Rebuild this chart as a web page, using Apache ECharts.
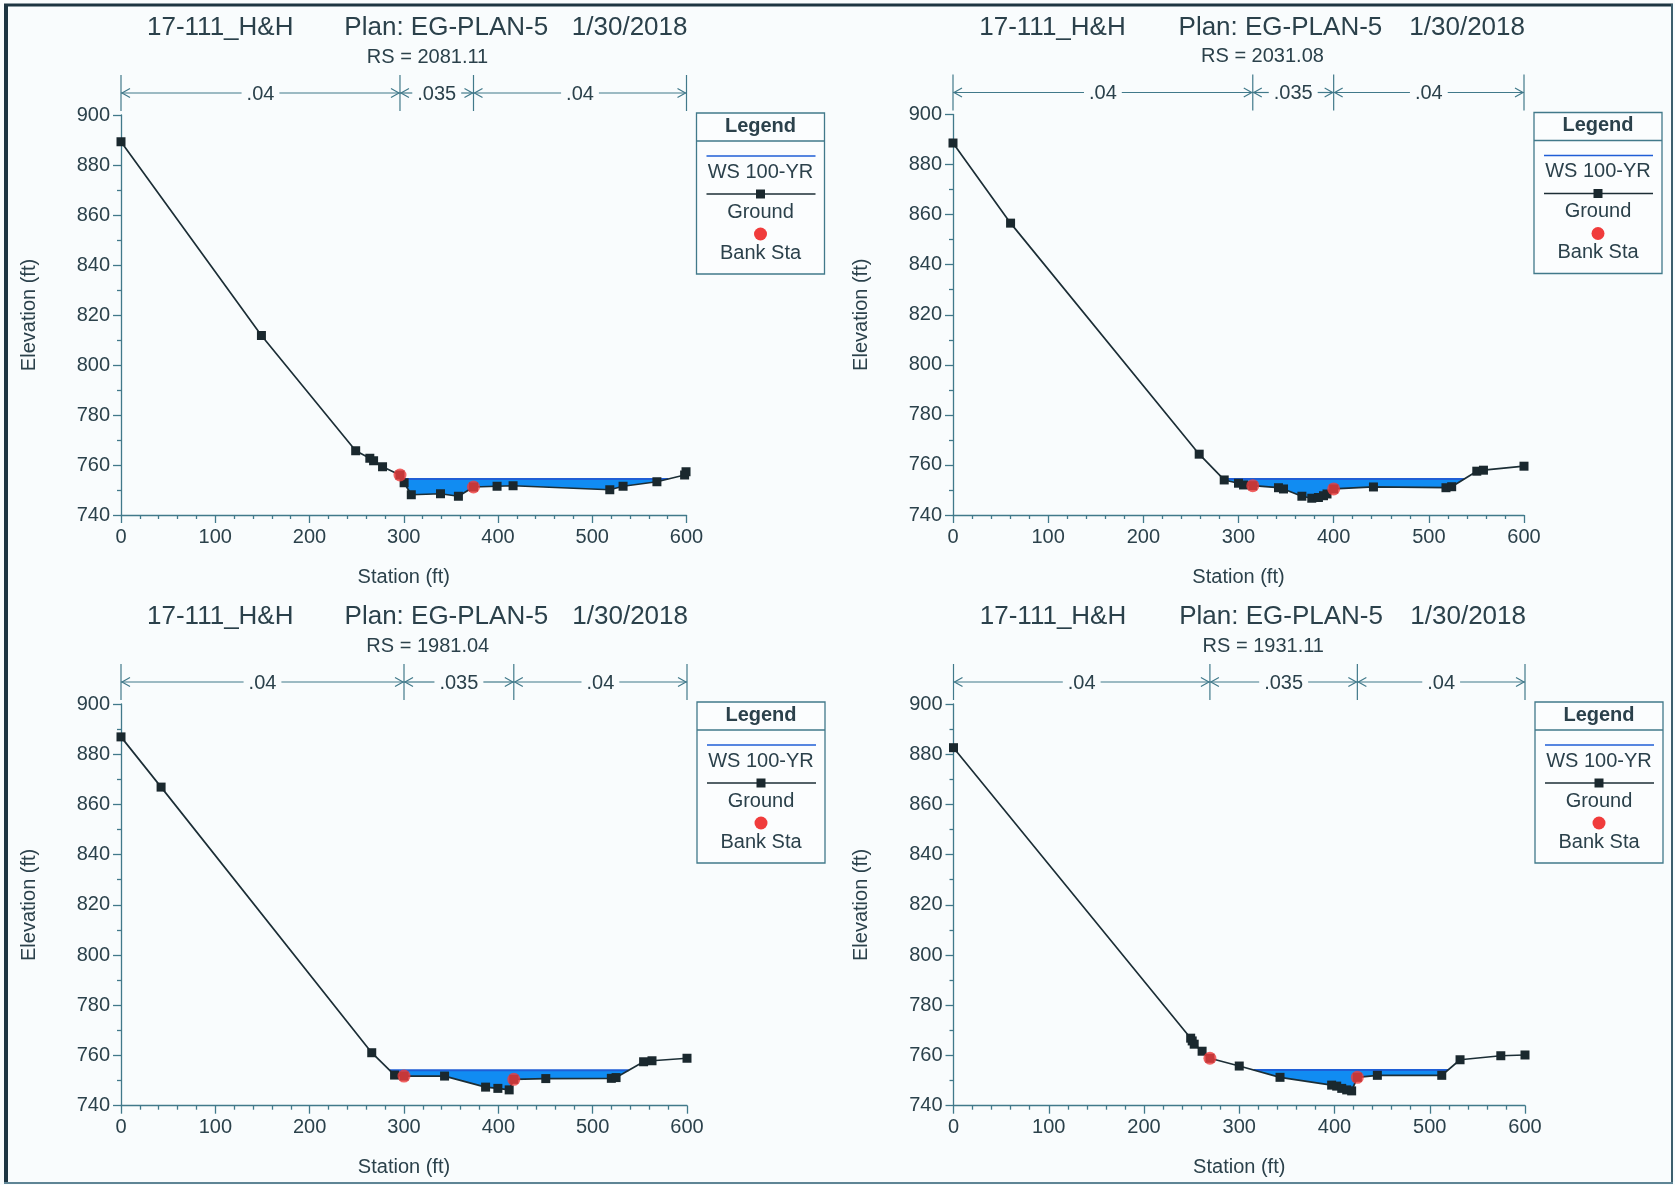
<!DOCTYPE html>
<html>
<head>
<meta charset="utf-8">
<script src="https://cdn.jsdelivr.net/npm/echarts@6/dist/echarts.min.js"></script>
<style>
  html, body { margin: 0; padding: 0; background: #f9fcfd; }
  #chart { width: 1675px; height: 1185px; }
</style>
</head>
<body>
<div id="chart"></div>
<script>
// ---- Cross-section data (station ft, elevation ft) ----
const projectName = '17-111_H&H';
const planName = 'Plan: EG-PLAN-5';
const planDate = '1/30/2018';
const riverStations = ['2081.11', '2031.08', '1981.04', '1931.11'];
const nValues = ['.04', '.035', '.04'];

const xMin = 0, xMax = 600, xStep = 100;
const yMin = 740, yMax = 900, yStep = 20;

// RS 2081.11
const sta2081 = [0, 149, 249, 264, 268, 277.5, 296, 300.4, 308, 339, 358, 374, 399, 416, 518.6, 532.7, 568.6, 598, 599.5];
const elev2081 = [889.3, 811.8, 765.7, 762.7, 761.7, 759.3, 756, 752.9, 748.1, 748.5, 747.5, 751.2, 751.5, 751.7, 750.1, 751.5, 753.3, 756, 757.3];
const bank2081 = [296, 374];
const ws2081 = 754.4;

// RS 2031.08
const sta2031 = [0, 60.5, 258.7, 285, 300, 305.3, 315, 342, 347.3, 366.6, 377, 384, 389.3, 393, 400, 441.8, 518, 524, 550.4, 557.4, 600];
const elev2031 = [888.6, 856.6, 764.3, 754, 752.7, 752, 751.7, 750.9, 750.4, 747.5, 746.7, 747, 747.7, 748.4, 750.4, 751.2, 750.9, 751.3, 757.5, 757.9, 759.5];
const bank2031 = [315, 400];
const ws2031 = 754.4;

// RS 1981.04
const sta1981 = [0, 42.5, 265.8, 290, 300, 343, 386.5, 399.5, 411.5, 416.4, 450.3, 519.8, 524.8, 554, 562.9, 600];
const elev1981 = [886.9, 866.9, 761.1, 752.2, 751.8, 751.8, 747.4, 746.9, 746.3, 750.5, 750.8, 750.9, 751.2, 757.5, 757.9, 758.9];
const bank1981 = [300, 416.4];
const ws1981 = 754.1;

// RS 1931.11
const sta1931 = [0, 249, 250.6, 252.7, 261, 269.2, 300, 342.8, 397, 402.3, 407.6, 412.8, 418, 424, 445, 512.6, 531.8, 574.6, 600];
const elev1931 = [882.6, 766.9, 765.8, 764.5, 761.7, 758.9, 755.8, 751.3, 748.2, 747.8, 746.9, 746.3, 745.9, 751.3, 752.1, 752.1, 758.3, 759.9, 760.2];
const bank1931 = [269.2, 424];
const ws1931 = 754.2;

const sections = [
  { rs: riverStations[0], sta: sta2081, elev: elev2081, banks: bank2081, ws: ws2081 },
  { rs: riverStations[1], sta: sta2031, elev: elev2031, banks: bank2031, ws: ws2031 },
  { rs: riverStations[2], sta: sta1981, elev: elev1981, banks: bank1981, ws: ws1981 },
  { rs: riverStations[3], sta: sta1931, elev: elev1931, banks: bank1931, ws: ws1931 }
];

// ---- Layout (pixel boxes of the four plot areas) ----
const plotBoxes = [
  { left: 121, top: 115, width: 565.5, height: 400 },
  { left: 953, top: 114.5, width: 571, height: 400.5 },
  { left: 121, top: 704, width: 566, height: 401.7 },
  { left: 953.5, top: 704, width: 571.5, height: 401.7 }
];

const FONT = '"Liberation Sans", Arial, Helvetica, sans-serif';
const textColor = '#2b414b';
const axisColor = '#41798a';
const groundColor = '#1c2e36';
const waterFill = '#118cf2';
const waterLine = '#1f5ed6';
const bankColor = '#f03c3c';

const measureCtx = document.createElement('canvas').getContext('2d');
function textWidth(str, size) {
  measureCtx.font = size + 'px ' + FONT;
  return measureCtx.measureText(str).width;
}

// Wetted area polygon: ground points below the water surface plus the crossings
function wetPolygon(sta, elev, ws) {
  const pts = [];
  for (let k = 0; k < sta.length; k++) {
    if (elev[k] <= ws) pts.push([sta[k], elev[k]]);
    if (k < sta.length - 1) {
      const a = elev[k] - ws, b = elev[k + 1] - ws;
      if (a * b < 0) {
        const t = a / (a - b);
        pts.push([sta[k] + t * (sta[k + 1] - sta[k]), ws]);
      }
    }
  }
  return pts;
}

const grids = [], xAxes = [], yAxes = [], series = [], graphics = [];

sections.forEach((sec, i) => {
  const box = plotBoxes[i];
  grids.push({ left: box.left, top: box.top, width: box.width, height: box.height, containLabel: false });

  const lineStyle = { color: axisColor, width: 1.3 };
  xAxes.push({
    gridIndex: i, type: 'value', min: xMin, max: xMax, interval: xStep,
    axisLine: { show: true, onZero: false, lineStyle },
    axisTick: { show: true, length: 8, lineStyle },
    minorTick: { show: true, splitNumber: 5, length: 4, lineStyle },
    splitLine: { show: false },
    axisLabel: { color: textColor, fontSize: 20, fontFamily: FONT, margin: 12 },
    name: 'Station (ft)', nameLocation: 'middle', nameGap: 52,
    nameTextStyle: { color: textColor, fontSize: 20, fontFamily: FONT }
  });
  yAxes.push({
    gridIndex: i, type: 'value', min: yMin, max: yMax, interval: yStep,
    axisLine: { show: true, onZero: false, lineStyle },
    axisTick: { show: true, length: 8, lineStyle },
    minorTick: { show: true, splitNumber: 2, length: 4, lineStyle },
    splitLine: { show: false },
    axisLabel: { color: textColor, fontSize: 20, fontFamily: FONT, margin: 11 },
    name: 'Elevation (ft)', nameLocation: 'middle', nameGap: 82, nameRotate: 90,
    nameTextStyle: { color: textColor, fontSize: 20, fontFamily: FONT }
  });

  // water surface fill
  const poly = wetPolygon(sec.sta, sec.elev, sec.ws);
  series.push({
    type: 'custom', xAxisIndex: i, yAxisIndex: i, z: 1, silent: true,
    data: [[poly[0][0], sec.ws]],
    renderItem: (params, api) => {
      const pts = poly.map(p => api.coord(p));
      const left = api.coord([poly[0][0], sec.ws]);
      const right = api.coord([poly[poly.length - 1][0], sec.ws]);
      return {
        type: 'group',
        children: [
          { type: 'polygon', shape: { points: pts }, style: { fill: waterFill, stroke: null } },
          { type: 'line', shape: { x1: left[0], y1: left[1], x2: right[0], y2: right[1] },
            style: { stroke: waterLine, lineWidth: 2 } }
        ]
      };
    }
  });

  // Manning's n bands across the top of the plot
  const bounds = [xMin, sec.banks[0], sec.banks[1], xMax];
  series.push({
    type: 'custom', xAxisIndex: i, yAxisIndex: i, z: 1, silent: true, clip: false,
    data: [[xMin, yMax]],
    renderItem: (params, api) => {
      const top = params.coordSys.y;
      const y = top - 22;
      const children = [];
      const xs = bounds.map(b => api.coord([b, yMax])[0]);
      const st = { stroke: axisColor, lineWidth: 1.2, fill: null };
      xs.forEach(x => {
        children.push({ type: 'line', shape: { x1: x, y1: top - 40, x2: x, y2: top - 4 }, style: st });
      });
      for (let s = 0; s < 3; s++) {
        const x1 = xs[s], x2 = xs[s + 1], mid = (x1 + x2) / 2;
        const half = textWidth(nValues[s], 20) / 2 + 5;
        children.push({ type: 'line', shape: { x1: x1, y1: y, x2: mid - half, y2: y }, style: st });
        children.push({ type: 'line', shape: { x1: mid + half, y1: y, x2: x2, y2: y }, style: st });
        children.push({ type: 'polyline', shape: { points: [[x1 + 9, y - 4.5], [x1 + 1, y], [x1 + 9, y + 4.5]] }, style: st });
        children.push({ type: 'polyline', shape: { points: [[x2 - 9, y - 4.5], [x2 - 1, y], [x2 - 9, y + 4.5]] }, style: st });
        children.push({ type: 'text', style: { text: nValues[s], x: mid, y: y + 1, align: 'center', verticalAlign: 'middle',
          fill: textColor, font: '20px ' + FONT } });
      }
      return { type: 'group', children };
    }
  });

  // ground profile
  series.push({
    type: 'line', xAxisIndex: i, yAxisIndex: i, z: 3, silent: true,
    data: sec.sta.map((s, k) => [s, sec.elev[k]]),
    symbol: 'rect', symbolSize: 9,
    lineStyle: { color: groundColor, width: 1.7 },
    itemStyle: { color: '#1a282e' }
  });

  // bank stations
  series.push({
    type: 'scatter', xAxisIndex: i, yAxisIndex: i, z: 4, silent: true,
    data: sec.banks.map(b => [b, sec.elev[sec.sta.indexOf(b)]]),
    symbol: 'circle', symbolSize: 13,
    itemStyle: { color: bankColor }
  });

  // titles
  const L = box.left, W = box.width, T = box.top;
  const titleY = T - 87;
  graphics.push(
    { type: 'text', x: L + 0.046 * W, y: titleY, style: { text: projectName, fill: textColor, font: '26px ' + FONT, align: 'left', verticalAlign: 'middle' } },
    { type: 'text', x: L + 0.395 * W, y: titleY, style: { text: planName, fill: textColor, font: '26px ' + FONT, align: 'left', verticalAlign: 'middle' } },
    { type: 'text', x: L + W + 1, y: titleY, style: { text: planDate, fill: textColor, font: '26px ' + FONT, align: 'right', verticalAlign: 'middle' } },
    { type: 'text', x: L + 0.542 * W, y: T - 58, style: { text: 'RS = ' + sec.rs, fill: textColor, font: '20px ' + FONT, align: 'center', verticalAlign: 'middle' } }
  );

  // legend box
  const lx = L + W + 10, ly = T - 2, lw = 128, lh = 161;
  const cx = lx + lw / 2;
  const bst = { stroke: axisColor, lineWidth: 1.3, fill: null };
  graphics.push(
    { type: 'rect', shape: { x: lx, y: ly, width: lw, height: lh }, style: { stroke: axisColor, lineWidth: 1.3, fill: '#fbfdfe' } },
    { type: 'line', shape: { x1: lx, y1: ly + 28, x2: lx + lw, y2: ly + 28 }, style: bst },
    { type: 'text', x: cx, y: ly + 13, style: { text: 'Legend', fill: textColor, font: 'bold 20px ' + FONT, align: 'center', verticalAlign: 'middle' } },
    { type: 'line', shape: { x1: lx + 10, y1: ly + 43, x2: lx + lw - 9, y2: ly + 43 }, style: { stroke: waterLine, lineWidth: 1.5 } },
    { type: 'text', x: cx, y: ly + 59, style: { text: 'WS 100-YR', fill: textColor, font: '20px ' + FONT, align: 'center', verticalAlign: 'middle' } },
    { type: 'line', shape: { x1: lx + 10, y1: ly + 81, x2: lx + lw - 9, y2: ly + 81 }, style: { stroke: groundColor, lineWidth: 1.6 } },
    { type: 'rect', shape: { x: cx - 4.5, y: ly + 76.5, width: 9, height: 9 }, style: { fill: '#1a282e' } },
    { type: 'text', x: cx, y: ly + 99, style: { text: 'Ground', fill: textColor, font: '20px ' + FONT, align: 'center', verticalAlign: 'middle' } },
    { type: 'circle', shape: { cx: cx, cy: ly + 121, r: 6.5 }, style: { fill: bankColor } },
    { type: 'text', x: cx, y: ly + 140, style: { text: 'Bank Sta', fill: textColor, font: '20px ' + FONT, align: 'center', verticalAlign: 'middle' } }
  );
});

// page frame
graphics.push(
  { type: 'line', shape: { x1: 6, y1: 4, x2: 6, y2: 1184 }, style: { stroke: '#1d3542', lineWidth: 4 } },
  { type: 'line', shape: { x1: 4, y1: 5, x2: 1673, y2: 5 }, style: { stroke: '#1d3542', lineWidth: 3 } },
  { type: 'line', shape: { x1: 1672, y1: 4, x2: 1672, y2: 1184 }, style: { stroke: '#3d5f6e', lineWidth: 2 } },
  { type: 'line', shape: { x1: 4, y1: 1183, x2: 1673, y2: 1183 }, style: { stroke: '#5f8595', lineWidth: 2 } }
);

const chart = echarts.init(document.getElementById('chart'), null, { renderer: 'canvas' });
chart.setOption({
  backgroundColor: '#f9fcfd',
  animation: false,
  grid: grids,
  xAxis: xAxes,
  yAxis: yAxes,
  series: series,
  graphic: { elements: graphics }
});
</script>
</body>
</html>
